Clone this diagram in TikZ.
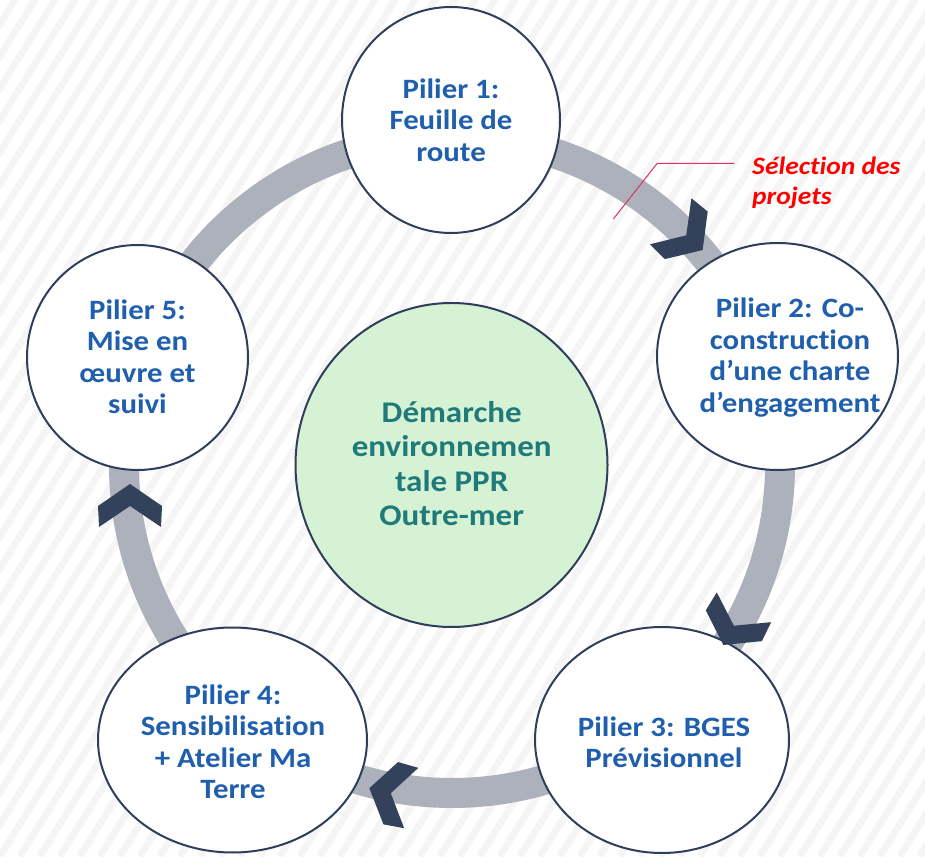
\documentclass[tikz,border=0pt]{standalone}
\usepackage{fontspec}
\setmainfont{Carlito}[FakeStretch=1.1, Ligatures={NoCommon}]
\usetikzlibrary{shapes.geometric}
\definecolor{navy}{RGB}{47,62,90}
\definecolor{chev}{RGB}{51,65,90}
\definecolor{pblue}{RGB}{31,95,174}
\definecolor{tealtxt}{RGB}{33,122,122}
\definecolor{cgreen}{RGB}{213,242,213}
\definecolor{ringgray}{RGB}{172,177,187}
\definecolor{callout}{RGB}{214,51,108}
\definecolor{stripe}{RGB}{245,245,245}
\begin{document}
\begin{tikzpicture}[x=1pt,y=1pt,
  pillar/.style={ellipse, draw=navy, line width=2pt, fill=white, inner sep=0pt},
  ptext/.style={text=pblue, font=\fontsize{28}{31.5}\selectfont\bfseries, align=center, inner sep=0pt},
  ctext/.style={text=tealtxt, font=\fontsize{30}{34.5}\selectfont\bfseries, align=center, inner sep=0pt},
  seltext/.style={text=red, font=\fontsize{25}{30}\selectfont\bfseries\itshape, align=left, inner sep=0pt},
  chevron/.pic={\fill[chev] (21,0) -- (-1,32) -- (-22,31) -- (-1,0) -- (-22,-31) -- (-1,-32) -- cycle;}
]
\useasboundingbox (0,0) rectangle (925,856);
\fill[white] (0,0) rectangle (925,856);
\begin{scope}
  \clip (0,0) rectangle (925,856);
  \foreach \i in {-32,...,48} \draw[stripe, line width=7pt] (\i*20,0) -- ++(58:1100);
\end{scope}
% ring
\draw[ringgray, line width=30pt] (452,391) circle (328);
% pillars
\node[pillar, minimum width=218pt, minimum height=226pt] (p1) at (451,736) {};
\node[pillar, minimum width=241pt, minimum height=227pt] (p2) at (777.5,499.5) {};
\node[pillar, minimum width=254pt, minimum height=226pt] (p3) at (662,116) {};
\node[pillar, minimum width=269pt, minimum height=225pt] (p4) at (232.5,116) {};
\node[pillar, minimum width=221pt, minimum height=225pt] (p5) at (137.5,498.5) {};
\node[ellipse, draw=navy, line width=2pt, fill=cgreen, inner sep=0pt, minimum width=312pt, minimum height=324pt] (c) at (451.5,391) {};
% chevrons
\pic[rotate=-42] at (687,620) {chevron};
\pic[rotate=-118.7] at (733.4,229.4) {chevron};
\pic[rotate=166.8] at (389.8,63) {chevron};
\pic[rotate=90] at (130,351) {chevron};
% texts
\node[ptext] (t1) at (451,736) {Pilier 1:\\Feuille de\\route};
\node[ptext] (t2) at (790,498.5) {Pilier 2: Co-\\construction\\d’une charte\\d’engagement};
\node[ptext] (t3) at (664,113.5) {Pilier 3: BGES\\Prévisionnel};
\node[ptext] (t4) at (233,114.3) {Pilier 4:\\Sensibilisation\\+ Atelier Ma\\Terre};
\node[ptext] (t5) at (137.5,499) {Pilier 5:\\Mise en\\œuvre et\\suivi};
\node[ctext] (ct) at (451.7,392.5) {Démarche\\environnemen\\tale PPR\\Outre-mer};
% callout
\node[seltext, anchor=west] (sel) at (752,672.7) {Sélection des\\projets};
\coordinate (cA) at (613.3,637);
\coordinate (cB) at (657.3,692.7);
\coordinate (cC) at (734.3,692.7);
\draw[callout, line width=1pt] (cA) -- (cB) -- (cC);
\end{tikzpicture}
\end{document}
